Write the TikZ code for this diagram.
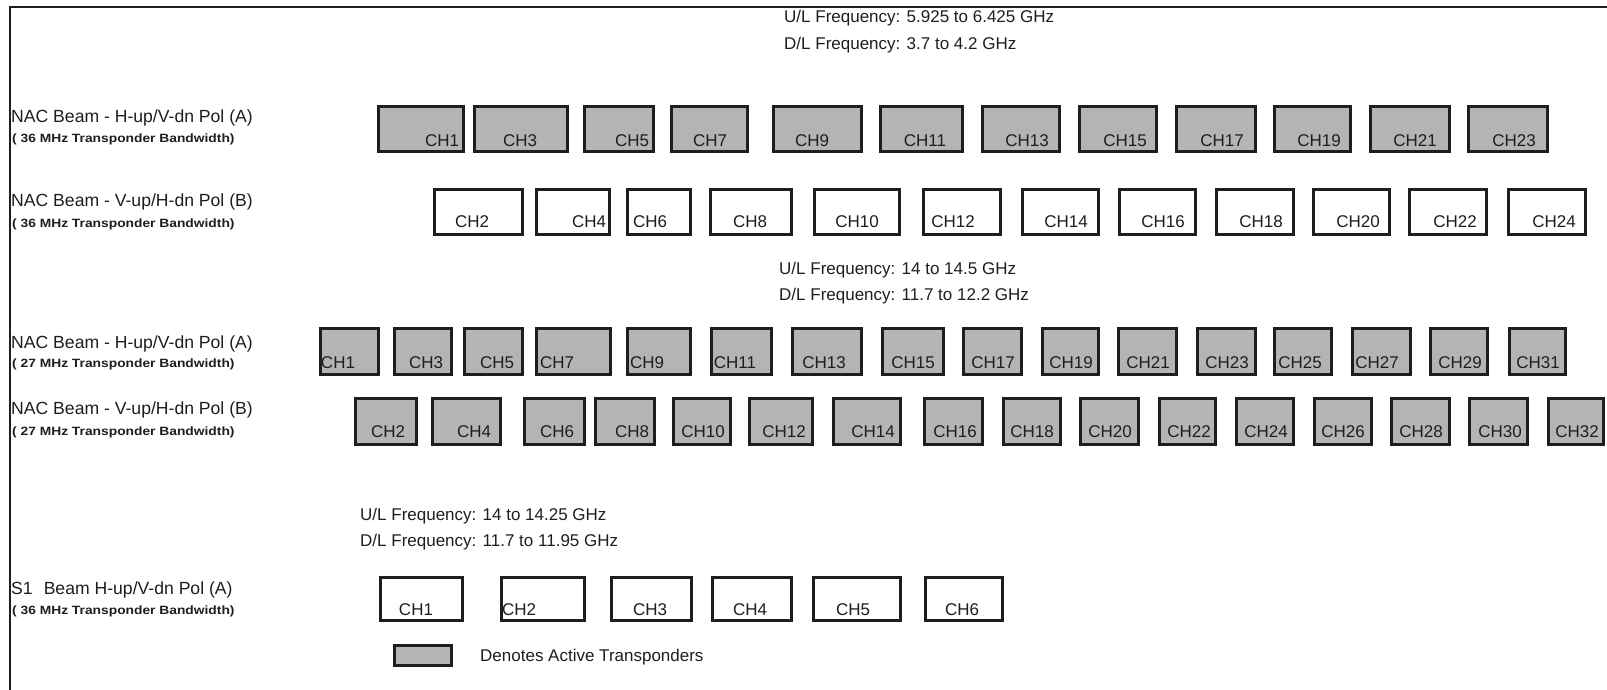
\documentclass[tikz,border=0pt]{standalone}
\usepackage{fontspec}
\setmainfont{Liberation Sans}
\definecolor{boxgray}{RGB}{180,180,180}
\definecolor{inkblack}{RGB}{30,30,30}
\tikzset{
  chbase/.style={rectangle, draw=inkblack, line width=2.6pt, inner sep=0pt},
  active/.style={chbase, fill=boxgray},
  idle/.style={chbase, fill=white},
  chlab/.style={inner sep=0pt, font=\fontsize{17}{20}\selectfont, text=inkblack},
  beamlab/.style={inner sep=0pt, anchor=base west, font=\fontsize{17.6}{20}\selectfont, text=inkblack},
  bwlab/.style={inner sep=0pt, anchor=base west, font=\fontsize{12}{14}\selectfont\bfseries, text=inkblack},
  freqlab/.style={inner sep=0pt, anchor=base west, font=\fontsize{17}{20}\selectfont, text=inkblack},
  frame/.style={draw=inkblack, line width=2pt}
}
\newcommand\chb[6]{%
  \node[#2, minimum width={#4-#3-2.6}, minimum height={\rowb-\rowa-2.6}] (#1#5) at ({(#3+#4)/2},{(\rowa+\rowb)/2}) {};
  \node[chlab] (#1#5t) at (#6,\rowl) {#5};
}
\newcommand\bw[1]{\scalebox{1.15}[1]{( #1 MHz Transponder Bandwidth)}}
\begin{document}
\begin{tikzpicture}[x=1pt,y=-1pt]
\useasboundingbox (0,0) rectangle (1607,690);
% frame
\coordinate (ftl) at (10,7);
\coordinate (ftr) at (1607,7);
\coordinate (fbl) at (10,690);
\draw[frame] (ftr) -- (ftl) -- (fbl);

% frequency texts
\node[freqlab] (f1u) at (784,23) {U/L Frequency: 5.925 to 6.425 GHz};
\node[freqlab] (f1d) at (784,50) {D/L Frequency: 3.7 to 4.2 GHz};
\node[freqlab] (f2u) at (779,274) {U/L Frequency: 14 to 14.5 GHz};
\node[freqlab] (f2d) at (779,300) {D/L Frequency: 11.7 to 12.2 GHz};
\node[freqlab] (f3u) at (360,520) {U/L Frequency: 14 to 14.25 GHz};
\node[freqlab] (f3d) at (360,546) {D/L Frequency: 11.7 to 11.95 GHz};

% row labels
\node[beamlab] (la1) at (11,123) {NAC Beam - H-up/V-dn Pol (A)};
\node[bwlab] (la2) at (12,143) {\bw{36}};
\node[beamlab] (lb1) at (11,207) {NAC Beam - V-up/H-dn Pol (B)};
\node[bwlab] (lb2) at (12,227) {\bw{36}};
\node[beamlab] (lc1) at (11,348) {NAC Beam - H-up/V-dn Pol (A)};
\node[bwlab] (lc2) at (12,367) {\bw{27}};
\node[beamlab] (ld1) at (11,414) {NAC Beam - V-up/H-dn Pol (B)};
\node[bwlab] (ld2) at (12,435) {\bw{27}};
\node[beamlab] (le1) at (11,594) {S1\hspace{0.35em} Beam H-up/V-dn Pol (A)};
\node[bwlab] (le2) at (12,614) {\bw{36}};

% row A (C-band, 36 MHz, pol A)
\def\rowa{105}\def\rowb{153}\def\rowl{141}
\chb{a}{active}{377}{465}{CH1}{442}
\chb{a}{active}{473}{569}{CH3}{520}
\chb{a}{active}{583}{655}{CH5}{632}
\chb{a}{active}{670}{749}{CH7}{710}
\chb{a}{active}{772}{863}{CH9}{812}
\chb{a}{active}{879}{964}{CH11}{925}
\chb{a}{active}{981}{1061}{CH13}{1027}
\chb{a}{active}{1078}{1158}{CH15}{1125}
\chb{a}{active}{1175}{1257}{CH17}{1222}
\chb{a}{active}{1273}{1352}{CH19}{1319}
\chb{a}{active}{1369}{1451}{CH21}{1415}
\chb{a}{active}{1467}{1549}{CH23}{1514}

% row B (C-band, 36 MHz, pol B)
\def\rowa{188}\def\rowb{236}\def\rowl{222}
\chb{b}{idle}{433}{524}{CH2}{472}
\chb{b}{idle}{535}{611}{CH4}{589}
\chb{b}{idle}{626}{692}{CH6}{650}
\chb{b}{idle}{709}{793}{CH8}{750}
\chb{b}{idle}{813}{901}{CH10}{857}
\chb{b}{idle}{922}{1002}{CH12}{953}
\chb{b}{idle}{1021}{1100}{CH14}{1066}
\chb{b}{idle}{1118}{1197}{CH16}{1163}
\chb{b}{idle}{1215}{1295}{CH18}{1261}
\chb{b}{idle}{1312}{1391}{CH20}{1358}
\chb{b}{idle}{1408}{1488}{CH22}{1455}
\chb{b}{idle}{1507}{1587}{CH24}{1554}

% row C (Ku-band, 27 MHz, pol A)
\def\rowa{327}\def\rowb{376}\def\rowl{363}
\chb{c}{active}{319}{380}{CH1}{338}
\chb{c}{active}{393}{453}{CH3}{426}
\chb{c}{active}{463}{524}{CH5}{497}
\chb{c}{active}{535}{612}{CH7}{557}
\chb{c}{active}{626}{692}{CH9}{647}
\chb{c}{active}{710}{773}{CH11}{735}
\chb{c}{active}{791}{863}{CH13}{824}
\chb{c}{active}{881}{945}{CH15}{913}
\chb{c}{active}{962}{1023}{CH17}{993}
\chb{c}{active}{1041}{1100}{CH19}{1071}
\chb{c}{active}{1117}{1178}{CH21}{1148}
\chb{c}{active}{1196}{1257}{CH23}{1227}
\chb{c}{active}{1273}{1333}{CH25}{1300}
\chb{c}{active}{1351}{1412}{CH27}{1377}
\chb{c}{active}{1429}{1489}{CH29}{1460}
\chb{c}{active}{1508}{1567}{CH31}{1538}

% row D (Ku-band, 27 MHz, pol B)
\def\rowa{397}\def\rowb{446}\def\rowl{432}
\chb{d}{active}{354}{418}{CH2}{388}
\chb{d}{active}{431}{502}{CH4}{474}
\chb{d}{active}{523}{586}{CH6}{557}
\chb{d}{active}{594}{656}{CH8}{632}
\chb{d}{active}{672}{732}{CH10}{703}
\chb{d}{active}{748}{814}{CH12}{784}
\chb{d}{active}{832}{902}{CH14}{873}
\chb{d}{active}{923}{984}{CH16}{955}
\chb{d}{active}{1002}{1062}{CH18}{1032}
\chb{d}{active}{1079}{1140}{CH20}{1110}
\chb{d}{active}{1158}{1217}{CH22}{1189}
\chb{d}{active}{1235}{1295}{CH24}{1266}
\chb{d}{active}{1313}{1373}{CH26}{1343}
\chb{d}{active}{1390}{1451}{CH28}{1421}
\chb{d}{active}{1468}{1529}{CH30}{1500}
\chb{d}{active}{1547}{1605}{CH32}{1577}

% row E (S1 beam)
\def\rowa{576}\def\rowb{622}\def\rowl{610}
\chb{e}{idle}{379}{464}{CH1}{416}
\chb{e}{idle}{500}{586}{CH2}{519}
\chb{e}{idle}{610}{693}{CH3}{650}
\chb{e}{idle}{711}{793}{CH4}{750}
\chb{e}{idle}{812}{902}{CH5}{853}
\chb{e}{idle}{924}{1004}{CH6}{962}

% legend
\node[active, minimum width=57.4, minimum height=20.4] (legbox) at (423,655.5) {};
\node[freqlab, anchor=west] (legtxt) at (480,657) {Denotes Active Transponders};
\end{tikzpicture}
\end{document}
